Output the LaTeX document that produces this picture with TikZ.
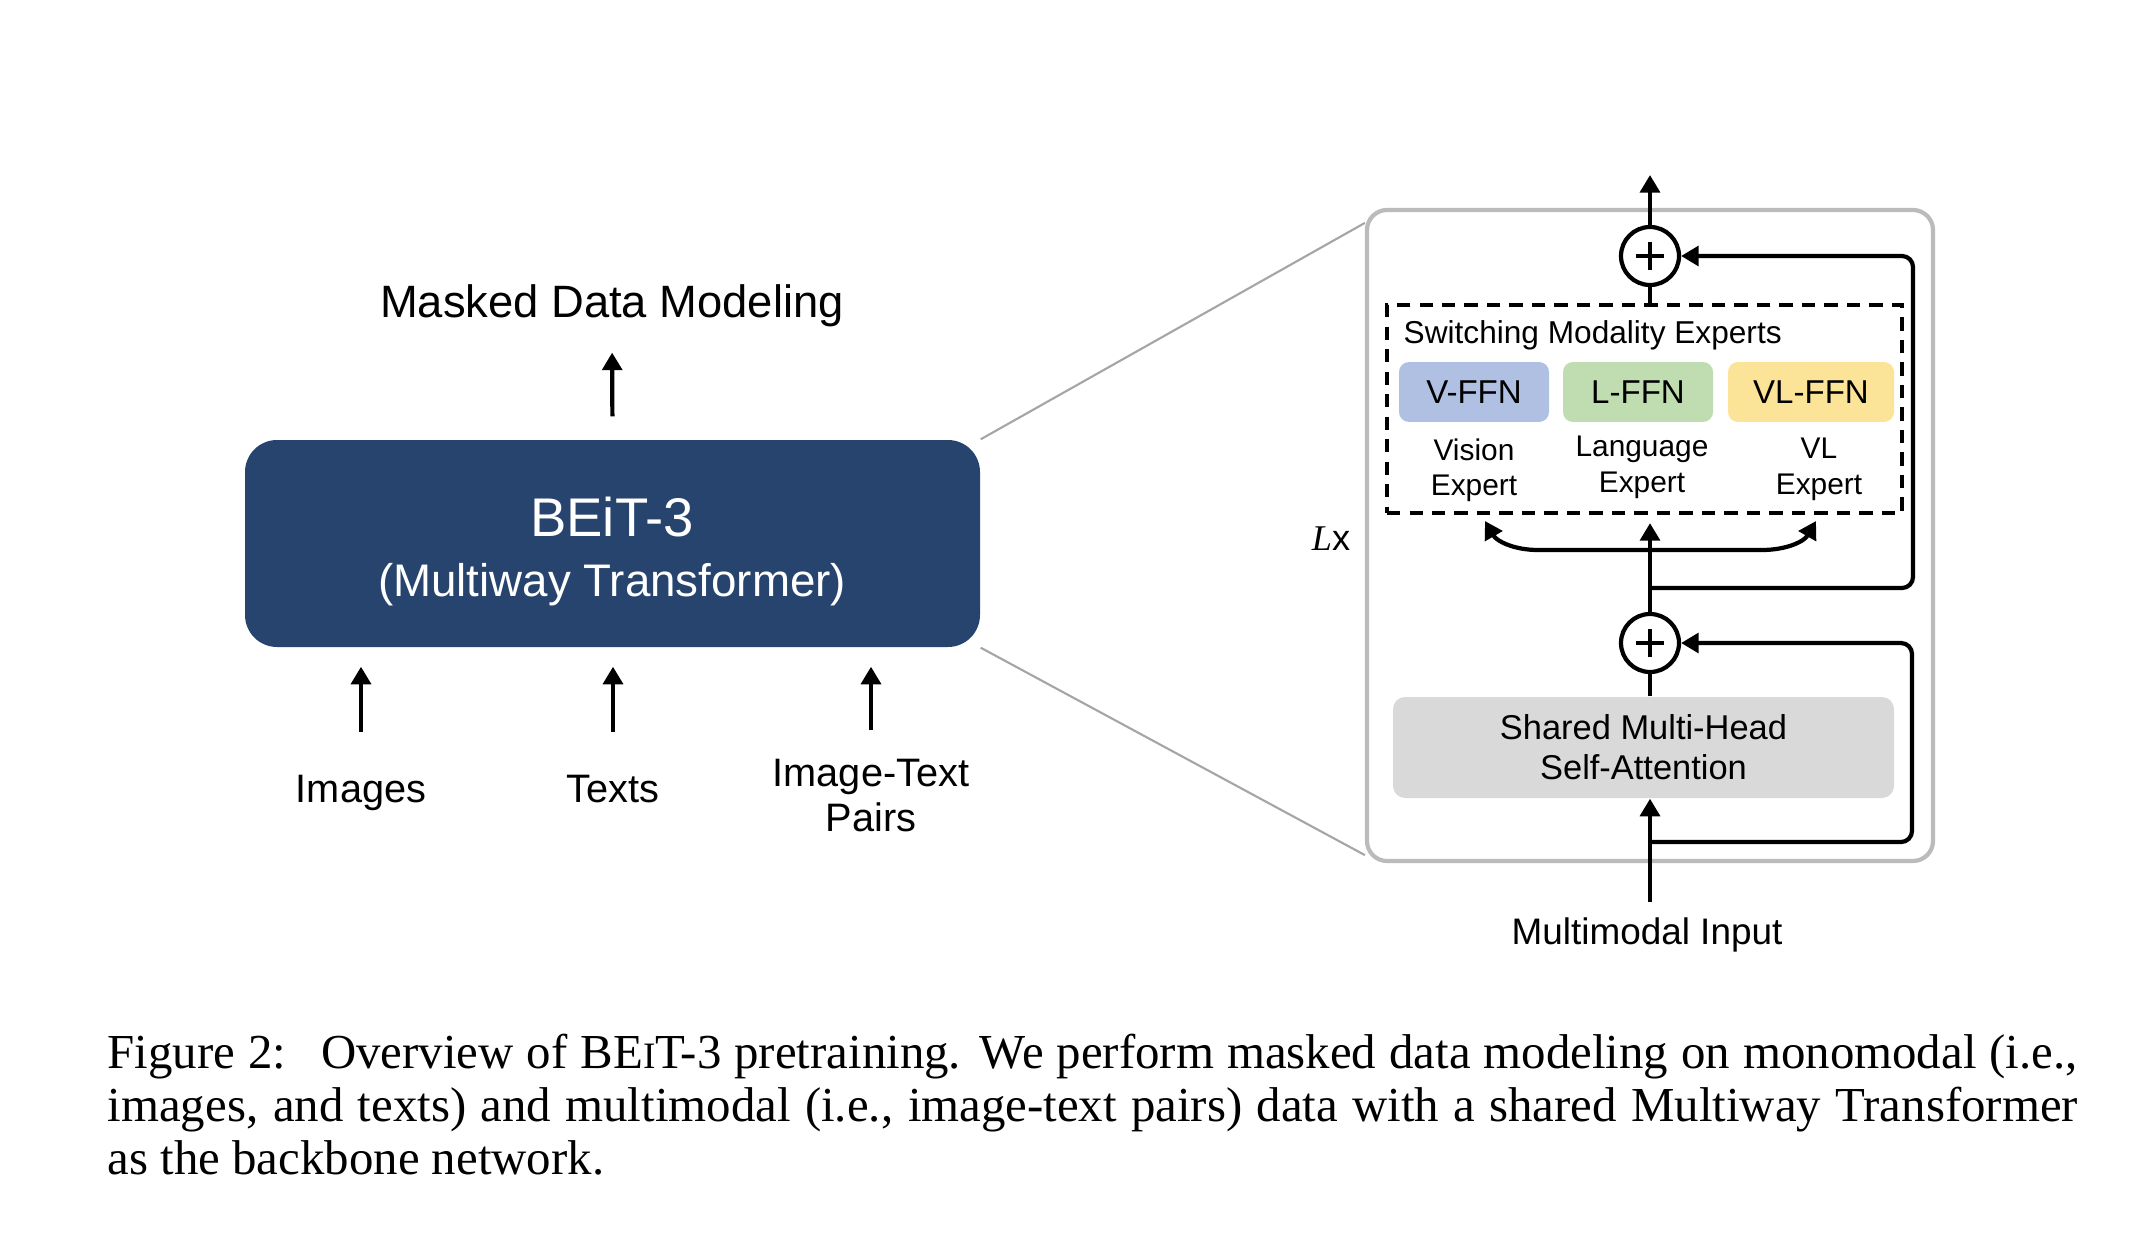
\documentclass[tikz,border=0pt]{standalone}
\usepackage{fontspec}
\setmainfont{Liberation Serif}
\setsansfont{Liberation Sans}
\usetikzlibrary{arrows.meta,positioning}
\definecolor{beitblue}{RGB}{39,68,111}
\definecolor{vblue}{RGB}{175,192,227}
\definecolor{lgreen}{RGB}{191,221,176}
\definecolor{vlyellow}{RGB}{251,227,152}
\definecolor{attngray}{RGB}{217,217,217}
\definecolor{panelgray}{RGB}{187,187,187}
\definecolor{zoomgray}{RGB}{165,165,165}
\newcommand{\setfs}[2]{\fontsize{#1pt}{#2pt}\selectfont}

\begin{document}
\begin{tikzpicture}[x=0.1mm,y=-0.1mm]
 \tikzset{model node/.style={rectangle, fill=beitblue,
 		rounded corners=3.2mm, minimum width=73.5mm, minimum height=20.7mm}, }
 \tikzset{ffn node/.style={rectangle, rounded corners=1mm, inner sep=0pt,
 		minimum width=15mm, minimum height=6mm, font=\sffamily\setfs{9.4}{11}}, }
 \tikzset{expert node/.style={inner sep=0pt, align=center,
 		font=\sffamily\setfs{8.5}{10}}, }
 \tikzset{sum node/.style={circle, draw, line width=1.2pt, inner sep=0pt,
 		minimum size=5.8mm, path picture={
 		\draw[line width=1pt] ([xshift=-1.4mm]path picture bounding box.center)
 		-- ([xshift=1.4mm]path picture bounding box.center)
 		([yshift=-1.4mm]path picture bounding box.center)
 		-- ([yshift=1.4mm]path picture bounding box.center);}}, }
 \tikzset{label node/.style={inner sep=0pt, font=\sffamily\setfs{11.3}{13}}, }
 \tikzset{linea/.style={line width=1.2pt}, }
 \tikzset{flow/.style={linea, -{Triangle[length=5pt,width=5.6pt]}}, }
 \tikzset{zoom line/.style={draw=zoomgray, line width=0.6pt}, }
 \useasboundingbox (0,0) rectangle (2142,1246);
 %% left: the model
 \node[label node, anchor=base, font=\sffamily\setfs{12.9}{15}] (1) at (612,318) {Masked Data Modeling};
 \node[model node] (2) at (612.5,543.5) {};
 \node[inner sep=0pt, anchor=base, text=white, font=\sffamily\setfs{15.5}{18}] (3) at (612,536) {BEiT-3};
 \node[inner sep=0pt, anchor=base, text=white, font=\sffamily\setfs{13}{15}] (4) at (612,596) {(Multiway Transformer)};
 \node[label node, anchor=base] (5) at (361,802) {Images};
 \node[label node, anchor=base] (6) at (613,802) {Texts};
 \node[label node, anchor=north, align=center] (7) at (871,758) {Image-Text\\Pairs};
 \draw[flow, shorten <=2.3mm, shorten >=2.45mm] (2.north) -- (1.south);
 \foreach \x/\s in {5/4.2,6/4.2,7/2.8}
 \draw[flow, shorten <=\s mm, shorten >=1.9mm] (\x.north) -- (\x.north |- 2.south);
 %% right: one layer
 \node[rectangle, draw=panelgray, line width=1.2pt, rounded corners=2mm,
 	minimum width=56.6mm, minimum height=65.1mm] (8) at (1650,535.5) {};
 \node[sum node] (9) at (1650,256) {};
 \node[rectangle, draw, line width=1.2pt, dash pattern=on 3.8pt off 2.6pt,
 	minimum width=51.5mm, minimum height=20.8mm] (10) at (1644.5,409) {};
 \node[inner sep=0pt, anchor=base west, font=\sffamily\setfs{9}{11}] (11) at (1403,344) {Switching Modality Experts};
 \node[ffn node, fill=vblue] (12) at (1474,392) {V-FFN};
 \node[ffn node, fill=lgreen] (13) at (1638,392) {L-FFN};
 \node[ffn node, fill=vlyellow, minimum width=16.6mm] (14) at (1811,392) {VL-FFN};
 \node[expert node] (15) [below =1.5mm of 12] {Vision\\Expert};
 \node[expert node] (16) [below =1.3mm of 13, xshift=0.4mm] {Language\\Expert};
 \node[expert node] (17) [below =1.5mm of 14, xshift=0.8mm] {VL\\Expert};
 \node[sum node] (18) at (1650,643) {};
 \node[rectangle, fill=attngray, rounded corners=1.2mm, align=center,
 	minimum width=50.1mm, minimum height=10.1mm,
 	font=\sffamily\setfs{9.8}{11.4}] (19) at (1643.5,747.5) {Shared Multi-Head\\Self-Attention};
 \node[label node, anchor=base, font=\sffamily\setfs{10.5}{12}] (20) at (1647,944) {Multimodal Input};
 \node[label node, anchor=base, font=\sffamily\setfs{10.3}{12}] (21) at (1331,550) {{\rmfamily\itshape L}x};
 \coordinate (out) at (1650,175);
 \coordinate (split) at (1650,550);
 \coordinate (vin) at (1485,521);
 \coordinate (vlin) at (1816,521);
 \coordinate (res1) at (1650,588);
 \coordinate (res2) at (1650,842);
 \draw[flow, shorten <=1.5mm] (18 |- 20.north) -- (18 |- 19.south);
 \draw[linea] (18 |- 19.north) -- (18.south);
 \draw[flow, shorten >=0.8mm] (18.north) -- (18.north |- 10.south);
 \draw[flow] (split) -- ++(-112,0) to[out=180,in=-60] (vin);
 \draw[flow] (split) -- ++(112,0) to[out=0,in=-120] (vlin);
 \draw[flow, rounded corners=1.1mm] (res1) -- ++(263,0) |- (9.east);
 \draw[flow, rounded corners=1.1mm] (res2) -- ++(262,0) |- (18.east);
 \draw[linea] (9.south) -- (9.south |- 10.north);
 \draw[flow] (9.north) -- (out);
 %% zoom lines
 \draw[zoom line] (2.north east) -- ([yshift=-1.5mm]8.north west);
 \draw[zoom line] (2.south east) -- ([yshift=0.8mm]8.south west);
 %% caption
 \node[inner sep=0pt, anchor=north west, text width=197mm, align=justify,
 	font=\rmfamily\setfs{13.9}{15.2}] (22) at (107,1033)
 	{Figure 2:\hspace{0.35em} Overview of BE{\setfs{10.6}{10}I}T-3 pretraining. We perform masked data modeling on monomodal (i.e.,\linebreak
 	images, and texts) and multimodal (i.e., image-text pairs) data with a shared Multiway Transformer\linebreak
 	as the backbone network.};
 %%
\end{tikzpicture}
\end{document}
